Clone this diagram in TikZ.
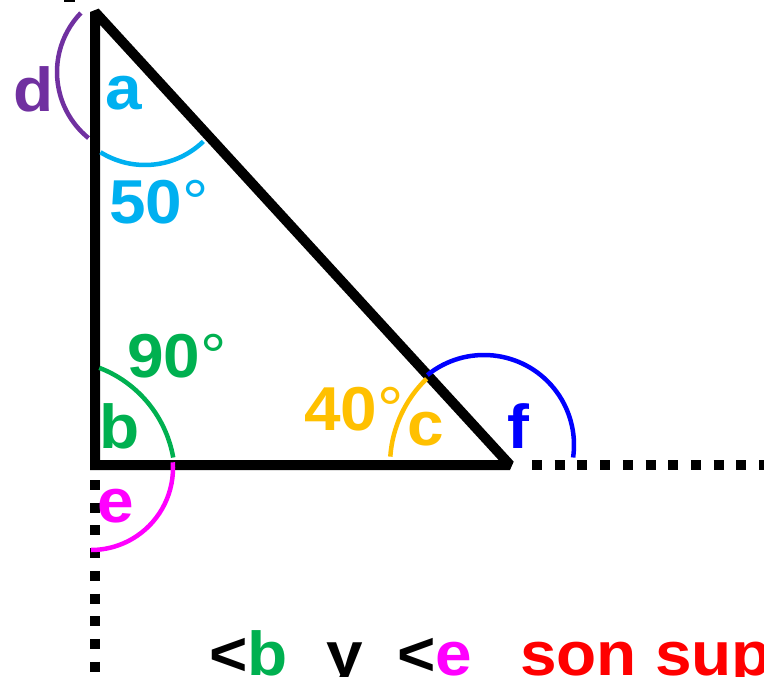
\documentclass[tikz,border=0pt]{standalone}
\usepackage{fontspec}
\setmainfont[FakeStretch=1.06]{Liberation Sans}
\usetikzlibrary{positioning}
\definecolor{angcyan}{HTML}{00B0F0}
\definecolor{angpurple}{HTML}{7030A0}
\definecolor{anggreen}{HTML}{00B050}
\definecolor{angorange}{HTML}{FFC000}
\definecolor{angblue}{HTML}{0000FF}
\definecolor{angmagenta}{HTML}{FF00FF}
\definecolor{angred}{HTML}{FF0000}
\newcommand{\degr}{\textmd{°}}

\begin{document}
\begin{tikzpicture}[
  x=1pt, y=-1pt,
  side/.style={line width=10pt, line join=miter, miter limit=1.5},
  ext/.style={line width=10pt, dash pattern=on 10pt off 12.7pt},
  angarc/.style={line width=4.5pt},
  lbl/.style={anchor=base west, inner sep=0pt,
              font=\fontsize{62}{62}\selectfont\bfseries}
]
\useasboundingbox (0,0) rectangle (764,677);
\clip (0,0) rectangle (764,677);

\coordinate (A) at (95,12);
\coordinate (B) at (95,465);
\coordinate (C) at (510,465);
\coordinate (Bdot) at (95,480);
\coordinate (Bend) at (95,700);
\coordinate (Cdot) at (532,465);
\coordinate (Cend) at (790,465);

% extensions
\draw[ext] (Bdot) -- (Bend);
\draw[ext] (Cdot) -- (Cend);
\fill (64,-8) rectangle (75,2);

% triangle
\draw[side] (A) -- (B) -- (C) -- cycle;

% angle arcs
\draw[angarc, angcyan] (145,81) ++(122:84) arc[start angle=122, end angle=46, radius=84];
\draw[angarc, angpurple] (142,72) ++(224:85) arc[start angle=224, end angle=129, radius=85];
\draw[angarc, anggreen] (57,478) ++(-69:118) arc[start angle=-69, end angle=-10, radius=118];
\draw[angarc, angmagenta] (91,468) ++(-4:82) arc[start angle=-4, end angle=90, radius=82];
\draw[angarc, angorange] (510,465) ++(184:120) arc[start angle=184, end angle=226, radius=120];
\draw[angarc, angblue] (484,445) ++(231:90) arc[start angle=231, end angle=368, radius=90];

% labels
\node[lbl, angpurple] (ld) at (13,112) {d};
\node[lbl, angcyan] (la) at (105,110) {a};
\node[lbl, angcyan] (l50) at (109,223) {50\degr};
\node[lbl, anggreen] (l90) at (127,377) {90\degr};
\node[lbl, anggreen] (lb) at (99,448) {b};
\node[lbl, angmagenta] (le) at (97,522) {e};
\node[lbl, angorange] (l40) at (304,430) {40\degr};
\node[lbl, angorange] (lc) at (407,445) {c};
\node[lbl, angblue] (lf) at (507,448) {f};

% bottom sentence
\node[lbl] (sb) at (209,675) {<\textcolor{anggreen}{b}};
\node[lbl] (sy) at (326,675) {y};
\node[lbl] (se) at (397,675) {<\textcolor{angmagenta}{e}};
\node[lbl, angred] (ss) at (520,675) {son sup};
\end{tikzpicture}
\end{document}
